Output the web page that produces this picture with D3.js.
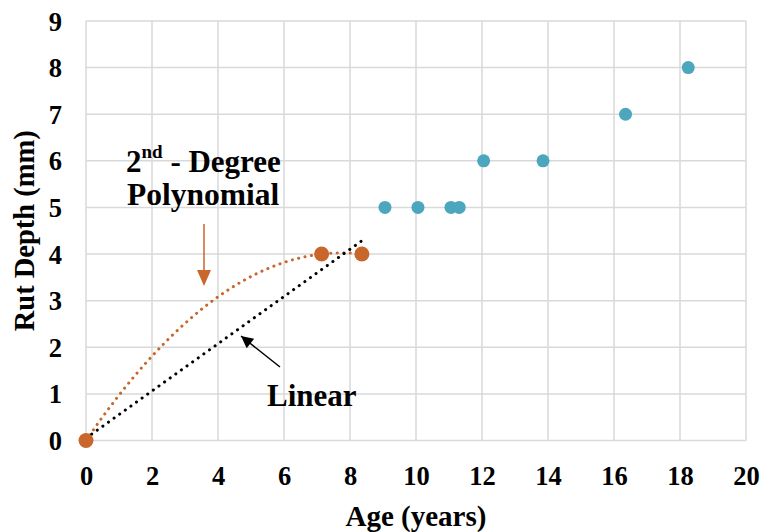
<!DOCTYPE html>
<html>
<head>
<meta charset="utf-8">
<script src="https://cdn.jsdelivr.net/npm/d3@7"></script>
<style>
  html, body { margin: 0; padding: 0; background: #fff; }
  svg text { font-family: "Liberation Serif", "Times New Roman", serif !important; font-weight: bold; fill: #000; }
</style>
</head>
<body>
<svg id="chart" width="764" height="532"></svg>
<script>
// Early-age measurements used for the trend fits
const earlyAge = [0, 7.14, 8.36];
const earlyRut = [0, 4, 4];
// Later measurements
const lateAge = [9.06, 10.06, 11.06, 11.31, 12.05, 13.85, 16.35, 18.25];
const lateRut = [5, 5, 5, 5, 6, 6, 7, 8];

const xTicks = [0, 2, 4, 6, 8, 10, 12, 14, 16, 18, 20];
const yTicks = [0, 1, 2, 3, 4, 5, 6, 7, 8, 9];

const orange = "#c8662b";
const teal = "#4ba6be";
const gridColor = "#d9d9d9";

const svg = d3.select("#chart");
const margin = { left: 86, right: 18, top: 21, bottom: 91.5 };
const W = 764, H = 532;

const x = d3.scaleLinear().domain([0, 20]).range([margin.left, W - margin.right]);
const y = d3.scaleLinear().domain([0, 9]).range([H - margin.bottom, margin.top]);

// Gridlines
svg.append("g").selectAll("line").data(xTicks).join("line")
  .attr("x1", d => x(d)).attr("x2", d => x(d))
  .attr("y1", y(0)).attr("y2", y(9))
  .attr("stroke", gridColor).attr("stroke-width", 1.5);
svg.append("g").selectAll("line").data(yTicks).join("line")
  .attr("x1", x(0)).attr("x2", x(20))
  .attr("y1", d => y(d)).attr("y2", d => y(d))
  .attr("stroke", gridColor).attr("stroke-width", 1.5);

// Axes (labels only; lines come from the grid)
const xAxis = svg.append("g").attr("transform", `translate(0,${y(0)})`)
  .call(d3.axisBottom(x).tickValues(xTicks).tickSize(0).tickPadding(26).tickFormat(d3.format("d")));
const yAxis = svg.append("g").attr("transform", `translate(${x(0)},0)`)
  .call(d3.axisLeft(y).tickValues(yTicks).tickSize(0).tickPadding(24).tickFormat(d3.format("d")));
[xAxis, yAxis].forEach(g => {
  g.select(".domain").remove();
  g.attr("font-family", null).attr("font-size", null);
  g.selectAll("text").style("font-size", "26.5px");
});
yAxis.selectAll("text").attr("dy", "0.34em");

// Axis titles
svg.append("text")
  .attr("x", (x(0) + x(20)) / 2).attr("y", 526)
  .attr("text-anchor", "middle").style("font-size", "29px")
  .text("Age (years)");
svg.append("text")
  .attr("transform", `translate(34,${(y(0) + y(9)) / 2}) rotate(-90)`)
  .attr("text-anchor", "middle").style("font-size", "28.5px")
  .text("Rut Depth (mm)");

// Least-squares polynomial fit of a given degree
function polyFit(xs, ys, deg) {
  const n = deg + 1;
  const A = Array.from({ length: n }, () => new Array(n + 1).fill(0));
  for (let i = 0; i < xs.length; i++) {
    for (let r = 0; r < n; r++) {
      for (let c = 0; c < n; c++) A[r][c] += Math.pow(xs[i], r + c);
      A[r][n] += ys[i] * Math.pow(xs[i], r);
    }
  }
  for (let p = 0; p < n; p++) {
    let max = p;
    for (let r = p + 1; r < n; r++) if (Math.abs(A[r][p]) > Math.abs(A[max][p])) max = r;
    [A[p], A[max]] = [A[max], A[p]];
    for (let r = 0; r < n; r++) {
      if (r === p) continue;
      const f = A[r][p] / A[p][p];
      for (let c = p; c <= n; c++) A[r][c] -= f * A[p][c];
    }
  }
  const coef = A.map((row, i) => row[n] / row[i]);
  return t => coef.reduce((s, c, i) => s + c * Math.pow(t, i), 0);
}

const linFit = polyFit(earlyAge, earlyRut, 1);
const quadFit = polyFit(earlyAge, earlyRut, 2);
const xMin = d3.min(earlyAge), xMax = d3.max(earlyAge);
const samples = d3.range(0, 101).map(i => xMin + (xMax - xMin) * i / 100);

const line = d3.line().x(d => x(d[0])).y(d => y(d[1]));

// Trendlines (round dotted)
svg.append("path")
  .datum(samples.map(t => [t, quadFit(t)]))
  .attr("d", line).attr("fill", "none")
  .attr("stroke", orange).attr("stroke-width", 3)
  .attr("stroke-linecap", "round").attr("stroke-dasharray", "0.1 6.4");
svg.append("path")
  .datum([[xMin, linFit(xMin)], [xMax, linFit(xMax)]])
  .attr("d", line).attr("fill", "none")
  .attr("stroke", "#000").attr("stroke-width", 3)
  .attr("stroke-linecap", "round").attr("stroke-dasharray", "0.1 6.8");

// Points
svg.append("g").selectAll("circle").data(earlyAge.map((a, i) => [a, earlyRut[i]])).join("circle")
  .attr("cx", d => x(d[0])).attr("cy", d => y(d[1])).attr("r", 7.5).attr("fill", orange);
svg.append("g").selectAll("circle").data(lateAge.map((a, i) => [a, lateRut[i]])).join("circle")
  .attr("cx", d => x(d[0])).attr("cy", d => y(d[1])).attr("r", 6.5).attr("fill", teal);

// Annotation: polynomial
const poly = svg.append("text").attr("x", 126).attr("y", 172).style("font-size", "31px");
poly.append("tspan").text("2");
poly.append("tspan").style("font-size", "19px").attr("dy", -14).text("nd");
poly.append("tspan").attr("dy", 14).text(" - Degree");
svg.append("text").attr("x", 127).attr("y", 205).style("font-size", "31.5px").text("Polynomial");

// Annotation arrows
const defs = svg.append("defs");
defs.append("marker").attr("id", "headK").attr("viewBox", "0 0 10 10")
  .attr("refX", 10).attr("refY", 5).attr("markerWidth", 14).attr("markerHeight", 12)
  .attr("markerUnits", "userSpaceOnUse").attr("orient", "auto")
  .append("path").attr("d", "M0,0 L10,5 L0,10 Z").attr("fill", "#000");

svg.append("line").attr("x1", 204).attr("y1", 224).attr("x2", 204).attr("y2", 271)
  .attr("stroke", orange).attr("stroke-width", 1.5);
svg.append("path").attr("d", "M197,270 L211,270 L204,286 Z").attr("fill", orange);

svg.append("line").attr("x1", 280).attr("y1", 367).attr("x2", 241).attr("y2", 336)
  .attr("stroke", "#000").attr("stroke-width", 1.5).attr("marker-end", "url(#headK)");

svg.append("text").attr("x", 267).attr("y", 406).style("font-size", "31px").text("Linear");
</script>
</body>
</html>
